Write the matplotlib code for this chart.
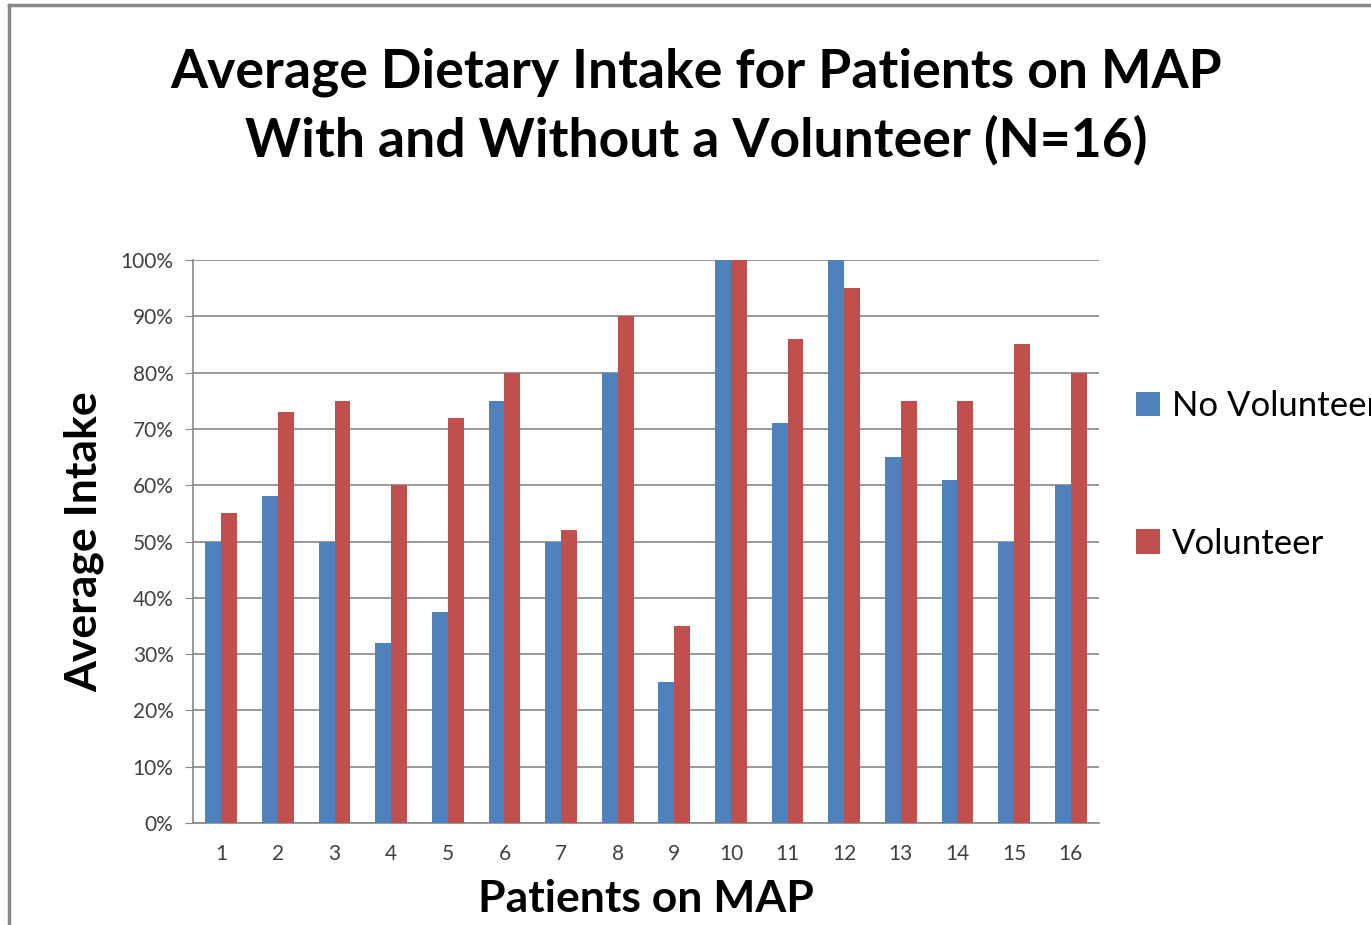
import matplotlib
matplotlib.use("Agg")
import matplotlib.pyplot as plt
import numpy as np

# values (percent)
patients = [str(i) for i in range(1, 17)]
no_volunteer = [50, 58, 50, 32, 37.5, 75, 50, 80, 25, 100, 71, 100, 65, 61, 50, 60]
volunteer = [55, 73, 75, 60, 72, 80, 52, 90, 35, 100, 86, 95, 75, 75, 85, 80]

BLUE = '#4F81BD'
RED = '#C0504D'
GRID = '#878787'
TXT = '#404040'

plt.rcParams['font.family'] = ['Lato', 'DejaVu Sans']

fig = plt.figure(figsize=(13.71, 9.25), dpi=100)
ax = fig.add_axes([193/1371, 1-823/925, (1099-193)/1371, (823-260)/925])

x = np.arange(len(patients))
w = 0.28
ax.bar(x - w/2, no_volunteer, w, color=BLUE, label='No Volunteer', zorder=3)
ax.bar(x + w/2, volunteer, w, color=RED, label='Volunteer', zorder=3)

ax.set_xlim(-0.5, len(patients) - 0.5)
ax.set_ylim(0, 100)
ax.set_yticks(range(0, 101, 10))
ax.set_yticklabels([f'{v}%' for v in range(0, 101, 10)], fontsize=15, color=TXT)
ax.set_xticks(x)
ax.set_xticklabels(patients, fontsize=15, color=TXT)
ax.tick_params(axis='x', length=0, pad=15)
ax.tick_params(axis='y', length=6, color=GRID, pad=8)
ax.grid(axis='y', color=GRID, linewidth=1.2, zorder=0)

for s in ['top', 'right']:
    ax.spines[s].set_visible(False)
for s in ['left', 'bottom']:
    ax.spines[s].set_color(GRID)
    ax.spines[s].set_linewidth(1.2)

ax.set_xlabel('Patients on MAP', fontsize=32, fontweight='bold', labelpad=11)
ax.set_ylabel('Average Intake', fontsize=32, fontweight='bold', labelpad=12)

fig.text(0.508, 0.922, 'Average Dietary Intake for Patients on MAP', ha='center', va='center',
         fontsize=38.5, fontweight='bold')
fig.text(0.508, 0.848, 'With and Without a Volunteer (N=16)', ha='center', va='center',
         fontsize=38.5, fontweight='bold')

leg = fig.legend(loc='upper left', bbox_to_anchor=(1122/1371, 1-376/925), frameon=False,
                 fontsize=25, handlelength=0.7, handleheight=0.7, handletextpad=0.35,
                 labelspacing=3.05, borderaxespad=0)

# chart border like the original export
fig.add_artist(plt.Line2D([9/1371, 9/1371], [0, 1-5/925], color='#888888', lw=2.5, transform=fig.transFigure))
fig.add_artist(plt.Line2D([9/1371, 1], [1-5/925, 1-5/925], color='#888888', lw=2.5, transform=fig.transFigure))

fig.savefig('out.png', dpi=100)
